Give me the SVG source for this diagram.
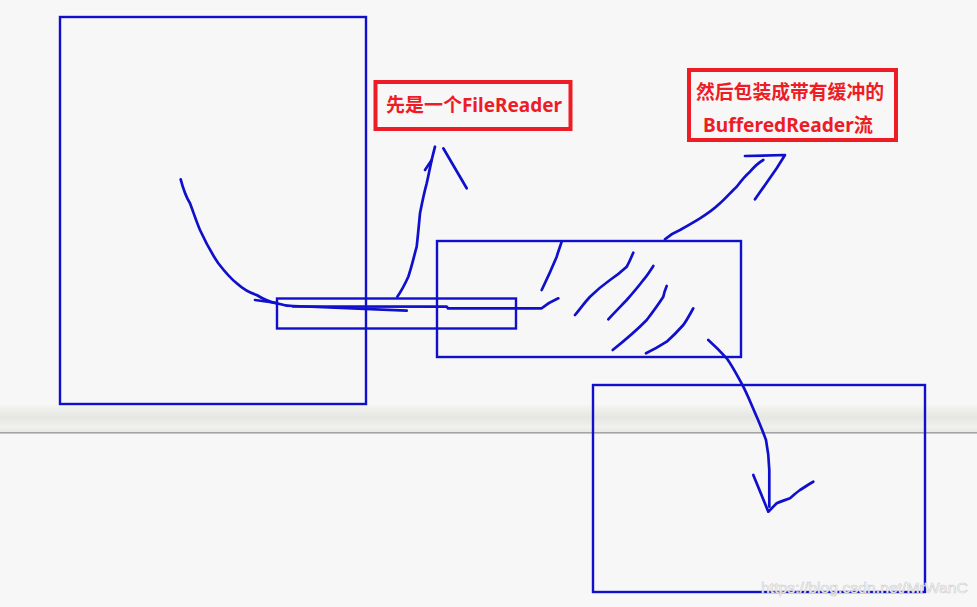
<svg xmlns="http://www.w3.org/2000/svg" width="977" height="607" viewBox="0 0 977 607">
<defs>
<linearGradient id="band" x1="0" y1="0" x2="0" y2="1">
<stop offset="0" stop-color="#f5f5f2"/>
<stop offset="0.15" stop-color="#efefec"/>
<stop offset="0.45" stop-color="#e6e6e2"/>
<stop offset="0.8" stop-color="#f0f0ec"/>
<stop offset="1" stop-color="#e9e9e5"/>
</linearGradient>
</defs>
<style>
.box{fill:none;stroke:#1010cc;stroke-width:2.4}
.pen{fill:none;stroke:#1010cc;stroke-width:2.7;stroke-linecap:round;stroke-linejoin:round}
.lbl{fill:none;stroke:#ee1c25;stroke-width:4}
.t{font-family:"Noto Sans","Noto Sans CJK SC",sans-serif;font-weight:bold;font-size:19px;fill:#ee1c25}
.wm{font-family:"Liberation Sans","DejaVu Sans",sans-serif;font-size:14.5px;fill:#ffffff;stroke:#cfcfcf;stroke-width:0.6}
</style>
<rect x="0" y="0" width="977" height="607" fill="#f7f7f7"/>
<rect x="0" y="405" width="977" height="27" fill="url(#band)"/>
<rect x="0" y="432" width="977" height="1.6" fill="#a4a4a2"/>

<g id="window-left"><rect class="box" x="60" y="17" width="306" height="387"/></g>
<g id="filereader-bar"><rect class="box" x="277" y="298.5" width="239" height="30"/></g>
<g id="buffer-box"><rect class="box" x="437" y="241" width="304" height="116"/></g>
<g id="window-right"><rect class="box" x="593" y="385" width="332" height="207"/></g>

<g id="label-filereader">
<rect class="lbl" x="375.5" y="82" width="195" height="47"/>
<text class="t" x="386" y="111.5" textLength="176" lengthAdjust="spacingAndGlyphs">先是一个FileReader</text>
</g>
<g id="label-buffered">
<rect class="lbl" x="689" y="70" width="207" height="70"/>
<text class="t" x="696" y="98.5" textLength="188" lengthAdjust="spacingAndGlyphs">然后包装成带有缓冲的</text>
<text class="t" x="703" y="131.5" textLength="170" lengthAdjust="spacingAndGlyphs">BufferedReader流</text>
</g>

<g id="connectors">
<path class="pen" d="M180.7,179.3 C184,192 188,200 190,203.3 C194,214 197,223 200,230 C206,243 212,254 218.3,263.3 C225,272 230,278 236.7,283.3 C243,289 250,293 256.7,295 C263,299 270,302 276.7,303.3 C282,305 288,306 293,306 L406.7,310.7"/>
<path class="pen" d="M255,300 L276.7,303"/>
<path class="pen" d="M293,306.5 L446.7,306.7 L448,308.3 L541.7,308.3 C547,304 552,301 558.3,298.3"/>
<path class="pen" d="M397.3,296.7 C402,290 405,284 408.3,276.7 C412,266 414,256 416.7,246.7 C418,235 419,224 420,213.3 C422,203 424,193 426.7,183.3 C429,173 431,162 433.3,153.3 L435,146.7"/>
<path class="pen" d="M425,170 L431.7,160"/>
<path class="pen" d="M443.3,148.3 L466.7,188.3"/>
<path class="pen" d="M665,239.3 C670,235 675,232 680,230 C687,226 694,222 700,218.3 C707,214 714,209 720,203.3 C726,198 731,192 736.7,186.7 C741,181 745,176 750,171.7 C754,167 758,163 763.3,160"/>
<path class="pen" d="M745,156 L785,155 L776.7,168.3 L755,199.3"/>
<path class="pen" d="M708.3,340 C715,346 721,352 726.7,358.3 C733,367 738,377 743.3,386.7 C748,396 752,406 756.7,416.7 C760,424 763,432 766,440 C768,450 769,460 769.3,470 L769.3,506.7"/>
<path class="pen" d="M753.3,475 L768.3,511.7 L776.7,503.3 C781,501 786,500 790,498.3 C794,495 797,492 800,490 C805,487 809,484 813.3,481.7"/>
</g>

<g id="hatching">
<path class="pen" d="M561.7,241.7 C560,247 558,252 556.7,256.7 C552,268 547,279 541.7,290"/>
<path class="pen" d="M633.3,252.7 C631,258 629,263 626.7,266.7 C621,272 616,276 610,280 C603,285 596,291 590,296.7 C585,302 580,309 575,315"/>
<path class="pen" d="M653.3,266 C650,271 647,276 643.3,280 C638,287 632,294 626.7,300 C620,307 614,313 608.3,319.3"/>
<path class="pen" d="M666.7,286 C665,290 664,293 663.3,296.7 C658,305 652,313 646.7,320 C636,331 624,341 612.7,350"/>
<path class="pen" d="M693.3,308.3 C690,314 687,320 683.3,325 C678,331 672,337 666.7,341.7 C660,346 653,350 646,353.3"/>
</g>

<text class="wm" x="761" y="593" textLength="207" lengthAdjust="spacingAndGlyphs">https://blog.csdn.net/MrWanC</text>
</svg>
